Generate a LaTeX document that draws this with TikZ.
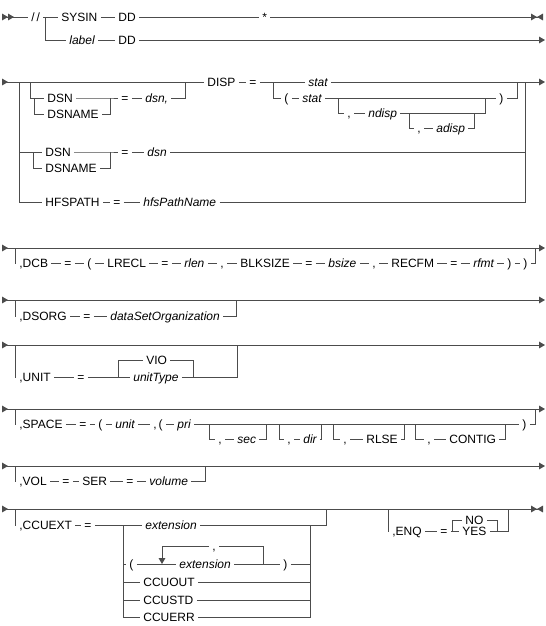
\documentclass[tikz,border=0pt]{standalone}
\usepackage{fontspec}
\setmainfont{Liberation Sans}
\usetikzlibrary{arrows.meta}

\tikzset{
	kw/.style={anchor=west, inner xsep=2.25pt, inner ysep=0pt, text height=6.5pt, text depth=0pt, text=black, font=\fontsize{9}{10}\selectfont},
	var/.style={kw, font=\fontsize{9}{10}\selectfont\itshape},
	tri/.tip={Triangle[length=4.5pt,width=5pt]},
	rtri/.tip={Triangle[length=4.5pt,width=5pt,reversed]},
}

\begin{document}
\begin{tikzpicture}[x=0.75pt, y=-0.75pt, color=black!70, line width=0.6pt]
	\useasboundingbox (0,0) rectangle (546,626);
	% DD line
	\coordinate (r1s) at (2,17);
	\node[kw] (slash) at (28,17) {/\,/};
	\coordinate (j1) at (45,17);
	\node[kw] (sysin) at (58,17) {SYSIN};
	\node[kw] (dd1) at (115,17) {DD};
	\node[kw] (star) at (259,17) {*};
	\coordinate (r1e) at (543,17);
	\node[var] (label) at (66,40) {label};
	\node[kw] (dd2) at (115,40) {DD};
	\coordinate (r1f) at (545,40);
	\draw[{rtri[]rtri[]}-] (r1s) -- (slash);
	\draw (slash) -- (sysin) -- (dd1) -- (star);
	\draw[-{tri[]rtri[]}] (star) -- (r1e);
	\draw (j1) |- (label.west);
	\draw (label) -- (dd2);
	\draw[-{tri[]}] (dd2) -- (r1f);
	% DSN / DISP / HFSPATH
	\coordinate (r2s) at (2,82);
	\coordinate (b2l) at (19,82);
	\coordinate (o2l) at (30,82);
	\coordinate (o2r) at (185,82);
	\node[kw] (dsn1) at (44,98) {DSN};
	\node[kw] (dsname1) at (44,114) {DSNAME};
	\coordinate (s2a) at (34,98);
	\coordinate (m2a) at (110,98);
	\node[kw] (eq2a) at (118,98) {=};
	\node[var] (dsnc) at (142,98) {dsn,};
	\node[kw] (disp) at (204,82) {DISP};
	\node[kw] (eq2) at (246,82) {=};
	\coordinate (c2l) at (273,82);
	\node[var] (stat1) at (305,82) {stat};
	\node[kw] (lp2) at (281,98) {(};
	\node[var] (stat2) at (299,98) {stat};
	\coordinate (n2l) at (338,98);
	\node[kw] (cm2a) at (344,113) {,};
	\node[var] (ndisp) at (365,113) {ndisp};
	\coordinate (n2r) at (485,98);
	\coordinate (a2l) at (409,113);
	\node[kw] (cm2b) at (414,128) {,};
	\node[var] (adisp) at (433,128) {adisp};
	\coordinate (a2r) at (474,113);
	\node[kw] (rp2) at (496,98) {)};
	\coordinate (c2r) at (517,82);
	\coordinate (b2r) at (525,82);
	\coordinate (r2e) at (545,82);
	\node[kw] (dsn2) at (42,152) {DSN};
	\node[kw] (dsname2) at (42,168) {DSNAME};
	\coordinate (s2b) at (33,152);
	\coordinate (m2b) at (110,152);
	\node[kw] (eq2b) at (118,152) {=};
	\node[var] (dsnd) at (144,152) {dsn};
	\coordinate (b2m) at (525,152);
	\node[kw] (hfs) at (42,202) {HFSPATH};
	\node[kw] (eq2c) at (110,202) {=};
	\node[var] (hfsname) at (140,202) {hfsPathName};
	\draw[{rtri[]}-] (r2s) -- (disp);
	\draw (disp) -- (eq2) -- (stat1);
	\draw[-{tri[]}] (stat1) -- (r2e);
	\draw (o2l) |- (dsn1.west);
	\draw (s2a) |- (dsname1.west);
	\draw (dsn1) -- (m2a) -- (eq2a) -- (dsnc);
	\draw (dsname1.east) -| (m2a);
	\draw (dsnc.east) -| (o2r);
	\draw (c2l) |- (lp2.west);
	\draw (lp2) -- (stat2) -- (rp2);
	\draw (rp2.east) -| (c2r);
	\draw (n2l) |- (cm2a.west);
	\draw (cm2a) -- (ndisp);
	\draw (ndisp.east) -| (n2r);
	\draw (a2l) |- (cm2b.west);
	\draw (cm2b) -- (adisp);
	\draw (adisp.east) -| (a2r);
	\draw (b2l) |- (dsn2.west);
	\draw (b2l) |- (hfs.west);
	\draw (s2b) |- (dsname2.west);
	\draw (dsn2) -- (m2b) -- (eq2b) -- (dsnd) -- (b2m);
	\draw (dsname2.east) -| (m2b);
	\draw (hfs) -- (eq2c) -- (hfsname);
	\draw (hfsname.east) -| (b2r);
	% DCB
	\coordinate (r3s) at (2,248);
	\coordinate (r3e) at (545,248);
	\coordinate (o3l) at (15,248);
	\coordinate (o3r) at (535,248);
	\node[kw] (dcb) at (16,263) {,DCB};
	\node[kw] (eq3a) at (61,263) {=};
	\node[kw] (lp3) at (84,263) {(};
	\node[kw] (lrecl) at (104,263) {LRECL};
	\node[kw] (eq3b) at (158,263) {=};
	\node[var] (rlen) at (181,263) {rlen};
	\node[kw] (cm3a) at (217,263) {,};
	\node[kw] (blksize) at (237,263) {BLKSIZE};
	\node[kw] (eq3c) at (302,263) {=};
	\node[var] (bsize) at (325,263) {bsize};
	\node[kw] (cm3b) at (369,263) {,};
	\node[kw] (recfm) at (388,263) {RECFM};
	\node[kw] (eq3d) at (447,263) {=};
	\node[var] (rfmt) at (470,263) {rfmt};
	\node[kw] (rp3a) at (504,263) {)};
	\node[kw] (rp3b) at (520,263) {)};
	\draw[{rtri[]}-{tri[]}] (r3s) -- (r3e);
	\draw (o3l) |- (dcb.west);
	\draw (dcb) -- (eq3a) -- (lp3) -- (lrecl) -- (eq3b) -- (rlen) -- (cm3a) -- (blksize) -- (eq3c) -- (bsize) -- (cm3b) -- (recfm) -- (eq3d) -- (rfmt) -- (rp3a) -- (rp3b);
	\draw (rp3b.east) -| (o3r);
	% DSORG
	\coordinate (r4s) at (2,300);
	\coordinate (r4e) at (545,300);
	\coordinate (o4l) at (15,300);
	\coordinate (o4r) at (236,300);
	\node[kw] (dsorg) at (16,316) {,DSORG};
	\node[kw] (eq4) at (80,316) {=};
	\node[var] (dso) at (107,316) {dataSetOrganization};
	\draw[{rtri[]}-{tri[]}] (r4s) -- (r4e);
	\draw (o4l) |- (dsorg.west);
	\draw (dsorg) -- (eq4) -- (dso);
	\draw (dso.east) -| (o4r);
	% UNIT
	\coordinate (r5s) at (2,345);
	\coordinate (r5e) at (545,345);
	\coordinate (o5l) at (15,345);
	\coordinate (o5r) at (237,345);
	\node[kw] (unit) at (16,377) {,UNIT};
	\node[kw] (eq5) at (74,377) {=};
	\coordinate (c5l) at (118,377);
	\node[kw] (vio) at (143,360) {VIO};
	\node[var] (unittype) at (130,377) {unitType};
	\coordinate (c5r) at (193,377);
	\draw[{rtri[]}-{tri[]}] (r5s) -- (r5e);
	\draw (o5l) |- (unit.west);
	\draw (unit) -- (eq5) -- (unittype);
	\draw (c5l) |- (vio.west);
	\draw (vio.east) -| (c5r);
	\draw (unittype.east) -| (o5r);
	% SPACE
	\coordinate (r6s) at (2,409);
	\coordinate (r6e) at (545,409);
	\coordinate (o6l) at (15,409);
	\coordinate (o6r) at (535,409);
	\node[kw] (space) at (16,424) {,SPACE};
	\node[kw] (eq6) at (76,424) {=};
	\node[kw] (lp6) at (95,424) {(};
	\node[var] (unit6) at (112,424) {unit};
	\node[kw] (cmlp6) at (150,424) {,\,(};
	\node[var] (pri) at (174,424) {pri};
	\coordinate (p1l) at (209,424);
	\node[kw] (cm6a) at (215,439) {,};
	\node[var] (sec) at (234,439) {sec};
	\coordinate (p1r) at (266,424);
	\coordinate (p2l) at (279,424);
	\node[kw] (cm6b) at (284,439) {,};
	\node[var] (dir) at (300,439) {dir};
	\coordinate (p2r) at (321,424);
	\coordinate (p3l) at (333,424);
	\node[kw] (cm6c) at (340,439) {,};
	\node[kw] (rlse) at (363,439) {RLSE};
	\coordinate (p3r) at (404,424);
	\coordinate (p4l) at (415,424);
	\node[kw] (cm6d) at (424,439) {,};
	\node[kw] (contig) at (446,439) {CONTIG};
	\coordinate (p4r) at (505,424);
	\node[kw] (rp6) at (519,424) {)};
	\draw[{rtri[]}-{tri[]}] (r6s) -- (r6e);
	\draw (o6l) |- (space.west);
	\draw (space) -- (eq6) -- (lp6) -- (unit6) -- (cmlp6) -- (pri) -- (rp6);
	\draw (rp6.east) -| (o6r);
	\draw (p1l) |- (cm6a.west);
	\draw (cm6a) -- (sec);
	\draw (sec.east) -| (p1r);
	\draw (p2l) |- (cm6b.west);
	\draw (cm6b) -- (dir);
	\draw (dir.east) -| (p2r);
	\draw (p3l) |- (cm6c.west);
	\draw (cm6c) -- (rlse);
	\draw (rlse.east) -| (p3r);
	\draw (p4l) |- (cm6d.west);
	\draw (cm6d) -- (contig);
	\draw (contig.east) -| (p4r);
	% VOL
	\coordinate (r7s) at (2,466);
	\coordinate (r7e) at (545,466);
	\coordinate (o7l) at (15,466);
	\coordinate (o7r) at (205,466);
	\node[kw] (vol) at (16,481) {,VOL};
	\node[kw] (eq7a) at (59,481) {=};
	\node[kw] (ser) at (79,481) {SER};
	\node[kw] (eq7b) at (123,481) {=};
	\node[var] (volume) at (146,481) {volume};
	\draw[{rtri[]}-{tri[]}] (r7s) -- (r7e);
	\draw (o7l) |- (vol.west);
	\draw (vol) -- (eq7a) -- (ser) -- (eq7b) -- (volume);
	\draw (volume.east) -| (o7r);
	% CCUEXT and ENQ
	\coordinate (r8s) at (2,509);
	\coordinate (r8e) at (543,509);
	\coordinate (o8l) at (15,509);
	\coordinate (o8r) at (326,509);
	\node[kw] (ccuext) at (16,525) {,CCUEXT};
	\node[kw] (eq8) at (81,525) {=};
	\coordinate (c8l) at (123,525);
	\node[var] (ext1) at (142,525) {extension};
	\coordinate (c8r) at (310,525);
	\node[kw] (lp8) at (126,564) {(};
	\coordinate (lpl) at (162,564);
	\node[var] (ext2) at (176,564) {extension};
	\coordinate (lpr) at (263,564);
	\node[kw] (cm8) at (209,546) {,};
	\node[kw] (rp8) at (280,564) {)};
	\node[kw] (ccuout) at (140,582) {CCUOUT};
	\node[kw] (ccustd) at (140,600) {CCUSTD};
	\node[kw] (ccuerr) at (140,617) {CCUERR};
	\draw[{rtri[]}-{tri[]rtri[]}] (r8s) -- (r8e);
	\draw (o8l) |- (ccuext.west);
	\draw (ccuext) -- (eq8) -- (ext1);
	\draw (ext1.east) -| (o8r);
	\draw (c8l) |- (lp8.west);
	\draw (c8l) |- (ccuout.west);
	\draw (c8l) |- (ccustd.west);
	\draw (c8l) |- (ccuerr.west);
	\draw (lp8) -- (ext2) -- (rp8);
	\draw[-{tri[]}] (cm8.west) -| (lpl);
	\draw (lpr) |- (cm8.east);
	\draw (rp8.east) -| (c8r);
	\draw (ccuout.east) -| (c8r);
	\draw (ccustd.east) -| (c8r);
	\draw (ccuerr.east) -| (c8r);
	\coordinate (o9l) at (388,509);
	\coordinate (o9r) at (508,509);
	\node[kw] (enq) at (389,531) {,ENQ};
	\node[kw] (eq9) at (437,531) {=};
	\coordinate (c9l) at (452,531);
	\node[kw] (no) at (462,520) {NO};
	\node[kw] (yes) at (459,531) {YES};
	\coordinate (c9r) at (497,531);
	\draw (o9l) |- (enq.west);
	\draw (enq) -- (eq9) -- (yes);
	\draw (c9l) |- (no.west);
	\draw (no.east) -| (c9r);
	\draw (yes.east) -| (o9r);
\end{tikzpicture}
\end{document}
